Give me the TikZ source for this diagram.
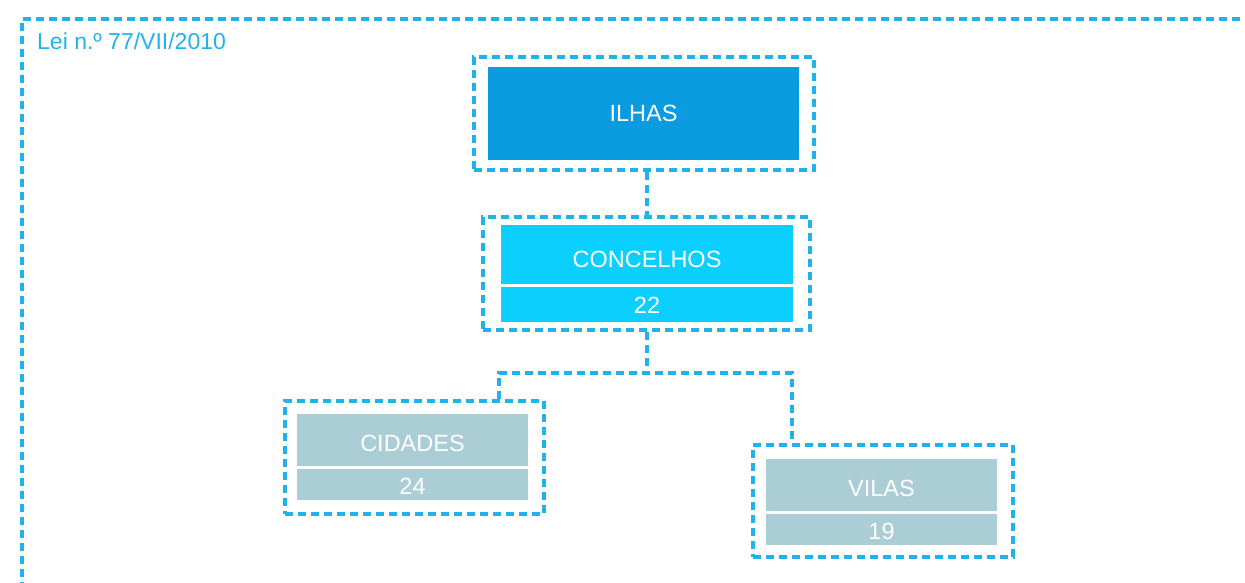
\documentclass[tikz,border=0pt]{standalone}
\usepackage{fontspec}
\setmainfont{Liberation Sans}
\definecolor{frameblue}{HTML}{1FB3EA}
\definecolor{darkblue}{HTML}{0A9BE1}
\definecolor{cyanbox}{HTML}{0BD0FF}
\definecolor{greybox}{HTML}{ABCDD6}
\newcommand{\lowr}[2]{\raisebox{-#1pt}[\height][0pt]{#2}}
\begin{document}
\begin{tikzpicture}[x=1pt,y=-1pt,
  dashline/.style={draw=frameblue,line width=3.4pt,dash pattern=on 8pt off 5pt},
  outerbox/.style={dashline,rectangle,inner sep=0pt},
  fillbox/.style={rectangle,inner sep=0pt,text=white,font=\fontsize{23.5}{23.5}\selectfont},
]
\useasboundingbox (0,0) rectangle (1245,583);
% outer frame
\coordinate (fbl) at (22,590);
\coordinate (ftl) at (22,19);
\coordinate (ftr) at (1250,19);
\draw[dashline] (fbl) -- (ftl) -- (ftr);
\node[anchor=base west,text=frameblue,font=\fontsize{23}{23}\selectfont,inner sep=0pt] (lei) at (37,50) {Lei n.º 77/VII/2010};

% ILHAS
\node[outerbox,minimum width=340pt,minimum height=113pt] (ilhas) at (644,113.5) {};
\node[fillbox,fill=darkblue,minimum width=311pt,minimum height=93pt] (ilhasin) at (643.5,113.5) {ILHAS};

% CONCELHOS
\node[outerbox,minimum width=327pt,minimum height=113pt] (conc) at (646.5,273.5) {};
\node[fillbox,fill=cyanbox,minimum width=292pt,minimum height=59pt] (conct) at (647,254.5) {\lowr{5}{CONCELHOS}};
\node[fillbox,fill=cyanbox,minimum width=292pt,minimum height=35pt] (concb) at (647,304.5) {\lowr{0.5}{22}};

% CIDADES
\node[outerbox,minimum width=259pt,minimum height=113pt] (cid) at (414.5,457.5) {};
\node[fillbox,fill=greybox,minimum width=231pt,minimum height=52pt] (cidt) at (412.5,440) {\lowr{3.3}{CIDADES}};
\node[fillbox,fill=greybox,minimum width=231pt,minimum height=31pt] (cidb) at (412.5,484.5) {\lowr{2.2}{24}};

% VILAS
\node[outerbox,minimum width=260pt,minimum height=112pt] (vil) at (883,501) {};
\node[fillbox,fill=greybox,minimum width=231pt,minimum height=52pt] (vilt) at (881.5,485) {\lowr{3.3}{VILAS}};
\node[fillbox,fill=greybox,minimum width=231pt,minimum height=31pt] (vilb) at (881.5,529.5) {\lowr{1.5}{19}};

% connectors
\coordinate (jl) at (499,373);
\coordinate (jr) at (792,373);
\draw[dashline] (ilhas.south -| 647,0) -- (conc.north -| 647,0);
\draw[dashline] (conc.south -| 647,0) -- (647,373);
\draw[dashline] (jl |- cid.north) -- (jl) -- (jr) -- (jr |- vil.north);
\end{tikzpicture}
\end{document}
